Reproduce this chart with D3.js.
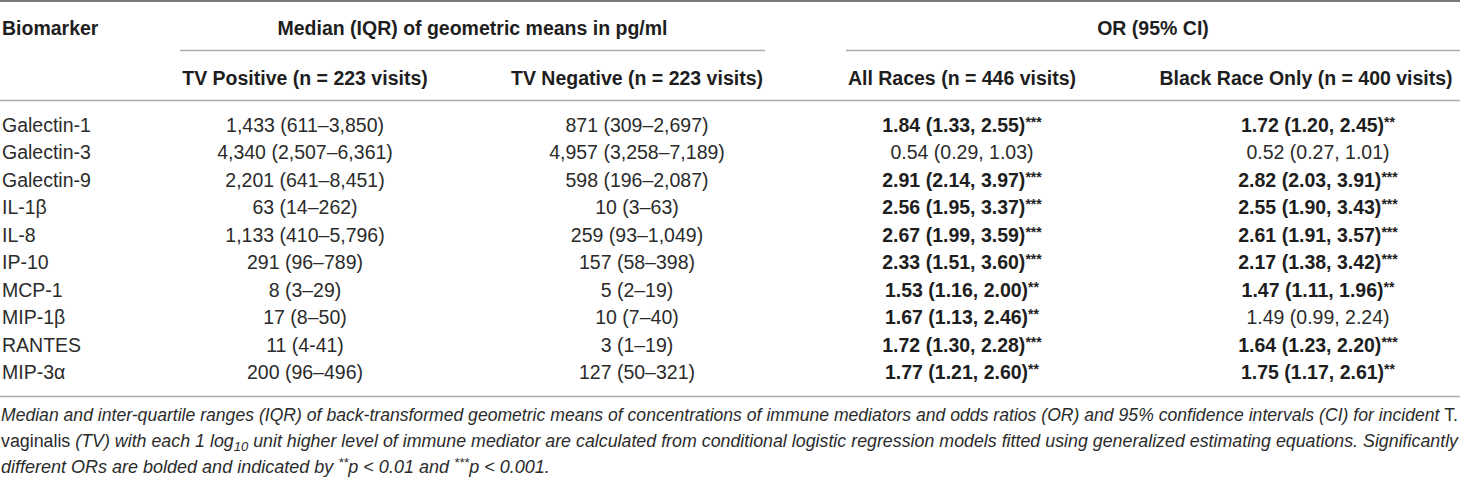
<!DOCTYPE html>
<html>
<head>
  <meta charset="utf-8">
  <title>Immune mediators and incident TV</title>
  <script src="https://d3js.org/d3.v7.min.js"></script>
  <style>
    body { margin: 0; background: #fff; }
    svg { display: block; }
    text { font-family: "Liberation Sans", Arial, sans-serif; }
  </style>
</head>
<body>
  <svg width="1460" height="479"></svg>
<script>

const biomarkers = ['Galectin-1', 'Galectin-3', 'Galectin-9', 'IL-1β', 'IL-8', 'IP-10', 'MCP-1', 'MIP-1β', 'RANTES', 'MIP-3α'];
const tvPositive = ['1,433 (611–3,850)', '4,340 (2,507–6,361)', '2,201 (641–8,451)', '63 (14–262)', '1,133 (410–5,796)',
                    '291 (96–789)', '8 (3–29)', '17 (8–50)', '11 (4-41)', '200 (96–496)'];
const tvNegative = ['871 (309–2,697)', '4,957 (3,258–7,189)', '598 (196–2,087)', '10 (3–63)', '259 (93–1,049)',
                    '157 (58–398)', '5 (2–19)', '10 (7–40)', '3 (1–19)', '127 (50–321)'];
const orAll      = ['1.84 (1.33, 2.55)', '0.54 (0.29, 1.03)', '2.91 (2.14, 3.97)', '2.56 (1.95, 3.37)', '2.67 (1.99, 3.59)',
                    '2.33 (1.51, 3.60)', '1.53 (1.16, 2.00)', '1.67 (1.13, 2.46)', '1.72 (1.30, 2.28)', '1.77 (1.21, 2.60)'];
const orAllSig   = ['***', '', '***', '***', '***', '***', '**', '**', '***', '**'];
const orBlack    = ['1.72 (1.20, 2.45)', '0.52 (0.27, 1.01)', '2.82 (2.03, 3.91)', '2.55 (1.90, 3.43)', '2.61 (1.91, 3.57)',
                    '2.17 (1.38, 3.42)', '1.47 (1.11, 1.96)', '1.49 (0.99, 2.24)', '1.64 (1.23, 2.20)', '1.75 (1.17, 2.61)'];
const orBlackSig = ['**', '', '***', '***', '***', '***', '**', '', '***', '**'];

const groupHeaders = ['Median (IQR) of geometric means in pg/ml', 'OR (95% CI)'];
const subHeaders = ['TV Positive (n = 223 visits)', 'TV Negative (n = 223 visits)',
                    'All Races (n = 446 visits)', 'Black Race Only (n = 400 visits)'];

const W = 1460;
let svg = d3.select('svg');

// column centres (data / header) and row bands
const colX = [305, 637, 962, 1318];
const headX = [305, 637, 962, 1306];
let y = d3.scaleBand().domain(biomarkers).range([111, 111 + 27.5 * biomarkers.length]);
let base = d => y(d) + y.bandwidth() / 2 + 7;

// horizontal rules
let rules = svg.append('g');
const rule = (x1, x2, yy, color, w) => {
  rules.append('path')
    .attr('d', 'M' + x1 + ',' + yy + 'H' + x2)
    .style('stroke', color).style('stroke-width', w).style('fill', 'none');
};

rule(0, W, 1, '#7a7a7a', 2);
rule(180, 765, 50.5, '#aaaaaa', 1.5);
rule(846, W, 50.5, '#aaaaaa', 1.5);
rule(0, W, 100.5, '#aaaaaa', 1.5);
rule(0, W, 396.5, '#aaaaaa', 1.5);

// headers
let head = svg.append('g').style('font-weight', 'bold').style('font-size', '19.5px').style('fill', '#1e1e1e');
head.append('text').attr('x', 2).attr('y', 35).text('Biomarker');
head.append('text').attr('x', (180 + 765) / 2).attr('y', 35).attr('text-anchor', 'middle').text(groupHeaders[0]);
head.append('text').attr('x', (846 + W) / 2).attr('y', 35).attr('text-anchor', 'middle').text(groupHeaders[1]);
subHeaders.forEach((s, i) => {
  head.append('text').attr('x', headX[i]).attr('y', 85).attr('text-anchor', 'middle').text(s);
});

// body
let body = svg.append('g').style('font-size', '19.5px').style('fill', '#2b2b2b');
biomarkers.forEach((b, i) => {
  body.append('text').attr('x', 2).attr('y', base(b)).text(b);
  body.append('text').attr('x', colX[0]).attr('y', base(b)).attr('text-anchor', 'middle').text(tvPositive[i]);
  body.append('text').attr('x', colX[1]).attr('y', base(b)).attr('text-anchor', 'middle').text(tvNegative[i]);

  [[orAll, orAllSig, colX[2]], [orBlack, orBlackSig, colX[3]]].forEach(([vals, sig, cx]) => {
    let t = body.append('text').attr('x', cx).attr('y', base(b)).attr('text-anchor', 'middle')
      .style('font-weight', sig[i] ? 'bold' : 'normal')
      .style('fill', sig[i] ? '#1e1e1e' : '#2b2b2b');
    t.append('tspan').text(vals[i]);
    if (sig[i]) t.append('tspan').style('font-size', '14px').attr('dy', -5).text(sig[i]);
  });
});

// caption, justified like the source
const captionLines = [
  [['Median and inter-quartile ranges (IQR) of back-transformed geometric means of concentrations of immune mediators and odds ratios (OR) and 95% confidence intervals (CI) for incident ', 'i'], ['T.', 'n']],
  [['vaginalis', 'n'], [' (TV) with each 1 log', 'i'], ['10', 'sub'], [' unit higher level of immune mediator are calculated from conditional logistic regression models fitted using generalized estimating equations. Significantly', 'i']],
  [['different ORs are bolded and indicated by ', 'i'], ['**', 'sup'], ['p < 0.01 and ', 'i'], ['***', 'sup'], ['p < 0.001.', 'i']]
];

let cap = svg.append('g').style('font-size', '18px').style('fill', '#2b2b2b')
  .style('font-family', '"Liberation Sans Narrow", "Liberation Sans", Arial, sans-serif');

captionLines.forEach((parts, li) => {
  let t = cap.append('text').attr('x', 1).attr('y', 421 + li * 26);
  parts.forEach(([s, kind], k) => {
    let sp = t.append('tspan').text(s)
      .style('font-style', kind === 'n' ? 'normal' : 'italic');
    if (kind === 'sub') sp.style('font-size', '13px').attr('dy', 4);
    if (kind === 'sup') sp.style('font-size', '13px').attr('dy', -6);
    // undo the shift of a preceding sub/sup
    let prev = parts[k - 1];
    if (prev && prev[1] === 'sub') sp.attr('dy', -4);
    if (prev && prev[1] === 'sup') sp.attr('dy', 6);
  });
  if (li < 2) {
    let len = t.node().getComputedTextLength();
    let target = W - 3;
    if (len > target) {
      t.style('font-size', (18 * target / len) + 'px');
      len = t.node().getComputedTextLength();
    }
    let spaces = parts.map(p => p[0]).join('').split(' ').length - 1;
    t.style('word-spacing', ((target - len) / spaces) + 'px');
  }
});

</script>
</body>
</html>
